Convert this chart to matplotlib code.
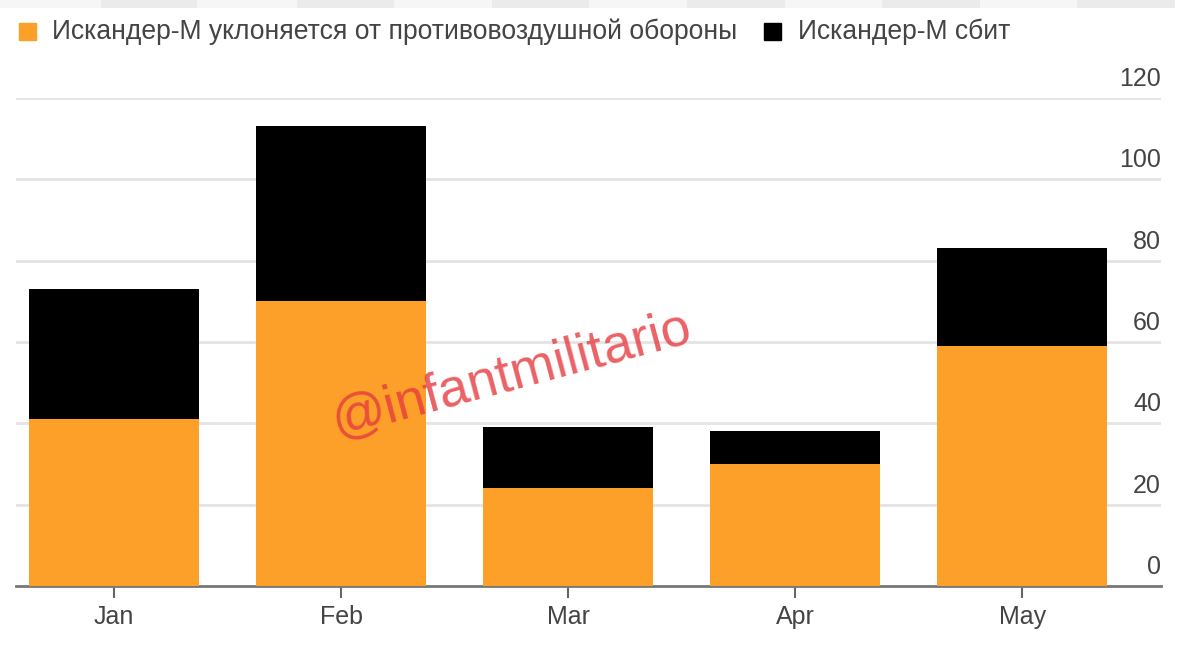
import matplotlib
matplotlib.use("Agg")
import matplotlib.pyplot as plt
from matplotlib.patches import Rectangle
from matplotlib.transforms import ScaledTranslation

months = ["Jan", "Feb", "Mar", "Apr", "May"]
evaded = [41, 70, 24, 30, 59]
intercepted = [32, 43, 15, 8, 24]
yticks = [0, 20, 40, 60, 80, 100, 120]

plt.rcParams['font.family'] = ['Liberation Sans', 'DejaVu Sans']
fig = plt.figure(figsize=(11.79, 6.5), dpi=100)
ax = fig.add_axes([16/1179, 1-586/650, (1161-16)/1179, (586-98)/650])
ax.bar(months, evaded, width=0.75, color="#FCA029", zorder=3)
ax.bar(months, intercepted, bottom=evaded, width=0.75, color="#000000", zorder=3)
ax.set_ylim(0, 120)
ax.set_xlim(-0.432, 4.612)
ax.yaxis.tick_right()
ax.set_yticks(yticks)
ax.grid(axis='y', color="#E4E4E4", lw=2, zorder=1)
ax.tick_params(axis='y', length=0, labelsize=18, labelcolor="#444444", pad=0)
offset = ScaledTranslation(0, 7/100, fig.dpi_scale_trans)
for t in ax.get_yticklabels():
    t.set_va('bottom')
    t.set_ha('right')
    t.set_transform(t.get_transform() + offset)
ax.tick_params(axis='x', length=8.5, width=1.5, color="#666666", labelsize=18, labelcolor="#444444", pad=5, direction='out')
for s in ['top', 'left', 'right']:
    ax.spines[s].set_visible(False)
ax.spines['bottom'].set_color("#777777")
ax.spines['bottom'].set_linewidth(2)

fig.add_artist(Rectangle((19/1179, 1-40/650), 17/1179, 17/650, transform=fig.transFigure, color="#FCA029"))
fig.text(52/1179, 1-32/650, "Искандер-М уклоняется от противовоздушной обороны", fontsize=19.1, color="#444444", va='center')
fig.add_artist(Rectangle((764/1179, 1-40/650), 17/1179, 17/650, transform=fig.transFigure, color="#000000"))
fig.text(798/1179, 1-32/650, "Искандер-М сбит", fontsize=19.1, color="#444444", va='center')

# pale screenshot strip along the top edge
edges = [0, 101, 197, 297, 394, 492, 589, 687, 785, 882, 980, 1077, 1175]
for i in range(len(edges) - 1):
    fig.add_artist(Rectangle((edges[i]/1179, 1-8/650), (edges[i+1]-edges[i])/1179, 8/650,
                             transform=fig.transFigure, lw=0,
                             color="#EBEBEB" if i % 2 else "#F6F6F6"))

fig.text(512/1179, 1-375/650, "@infantmilitario", fontsize=38.5, color="#E63A3F", alpha=0.8, rotation=15,
         rotation_mode='anchor', ha='center', va='center', zorder=10)
fig.savefig("out.png", dpi=100)
